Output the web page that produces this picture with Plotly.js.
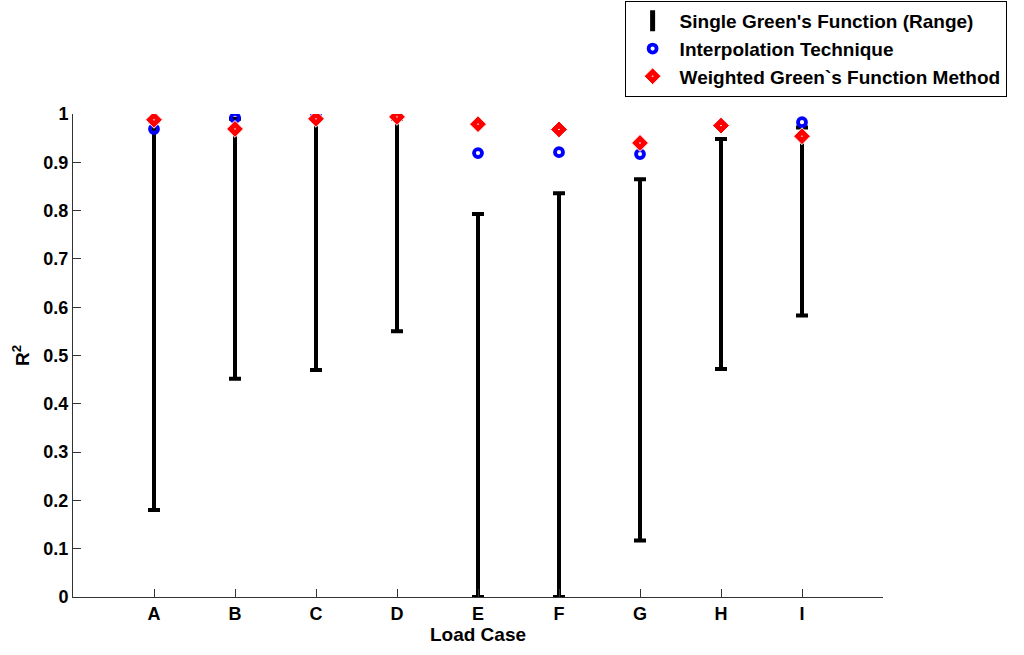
<!DOCTYPE html>
<html>
<head>
<meta charset="utf-8">
<script src="https://cdn.plot.ly/plotly-3.0.1.min.js"></script>
<style>html,body{margin:0;padding:0;background:#fff;}#chart{width:1024px;height:655px;}</style>
</head>
<body>
<div id="chart"></div>
<script>
var categories = ['A','B','C','D','E','F','G','H','I'];
var rangeLow  = [0.18, 0.452, 0.47, 0.55, 0.0, 0.0, 0.117, 0.472, 0.583];
var rangeMid  = [0.58, 0.72, 0.73, 0.77, 0.395, 0.416, 0.49, 0.708, 0.775];
var rangeHigh = [0.985, 0.99, 0.99, 0.99, 0.793, 0.836, 0.865, 0.948, 0.972];
var interp    = [0.969, 0.992, 0.996, 0.995, 0.919, 0.921, 0.917, 0.977, 0.983];
var weighted  = [0.988, 0.969, 0.99, 0.994, 0.979, 0.968, 0.94, 0.976, 0.954];

var xpos = categories.map(function(c, i){ return i + 1; });
var errPlus = rangeHigh.map(function(h, i){ return h - rangeMid[i]; });
var errMinus = rangeLow.map(function(l, i){ return rangeMid[i] - l; });

var fam = 'Liberation Sans, Arial, sans-serif';
var font = {family: fam, size: 19, color: '#000'};
var tickFont = {family: fam, size: 18, color: '#000', weight: 'bold'};

var traces = [
  {
    x: xpos, y: rangeMid, type: 'scatter', mode: 'markers', showlegend: false,
    marker: {color: '#000', size: 4, symbol: 'square'},
    error_y: {type: 'data', symmetric: false, array: errPlus, arrayminus: errMinus,
              color: '#000', thickness: 4, width: 6},
    hoverinfo: 'skip'
  },
  {
    x: [null], y: [null], type: 'scatter', mode: 'markers',
    name: "<b>Single Green's Function (Range)</b>",
    marker: {symbol: 'line-ns', size: 15, line: {color: '#000', width: 5}}
  },
  {
    x: xpos, y: interp, type: 'scatter', mode: 'markers',
    name: '<b>Interpolation Technique</b>',
    marker: {symbol: 'circle-open', size: 8, line: {color: '#0000ff', width: 3.8}, color: '#0000ff'}
  },
  {
    x: xpos, y: weighted, type: 'scatter', mode: 'markers',
    name: '<b>Weighted Green`s Function Method</b>',
    marker: {symbol: 'diamond-dot', size: 13, color: '#ff0000', line: {color: '#ffffff', width: 1}}
  }
];

var layout = {
  width: 1024, height: 655,
  margin: {l: 73, r: 141, t: 114, b: 58, autoexpand: false},
  paper_bgcolor: '#fff', plot_bgcolor: '#fff',
  font: font,
  showlegend: true,
  legend: {
    x: 0.681, y: 1.234, xanchor: 'left', yanchor: 'top',
    bordercolor: '#000', borderwidth: 1, bgcolor: '#fff',
    font: {family: fam, size: 19, color: '#000'},
    tracegroupgap: 0, itemwidth: 44
  },
  xaxis: {
    range: [0, 10], tickmode: 'array', tickvals: xpos,
    ticktext: categories.map(function(c){ return '<b>' + c + '</b>'; }),
    ticks: 'inside', ticklen: 8, tickcolor: '#333', tickwidth: 1,
    showline: true, linecolor: '#333', linewidth: 1,
    showgrid: false, zeroline: false,
    tickfont: tickFont,
    title: {text: '<b>Load Case</b>', font: font, standoff: 4}
  },
  yaxis: {
    range: [0, 1], dtick: 0.1, tick0: 0,
    ticks: 'inside', ticklen: 8, tickcolor: '#333', tickwidth: 1,
    showline: true, linecolor: '#333', linewidth: 1,
    showgrid: false, zeroline: false,
    tickfont: tickFont,
    title: {text: '<b>R<sup>2</sup></b>', font: font, standoff: 8}
  }
};

Plotly.newPlot('chart', traces, layout, {displayModeBar: false, staticPlot: true});
</script>
</body>
</html>
